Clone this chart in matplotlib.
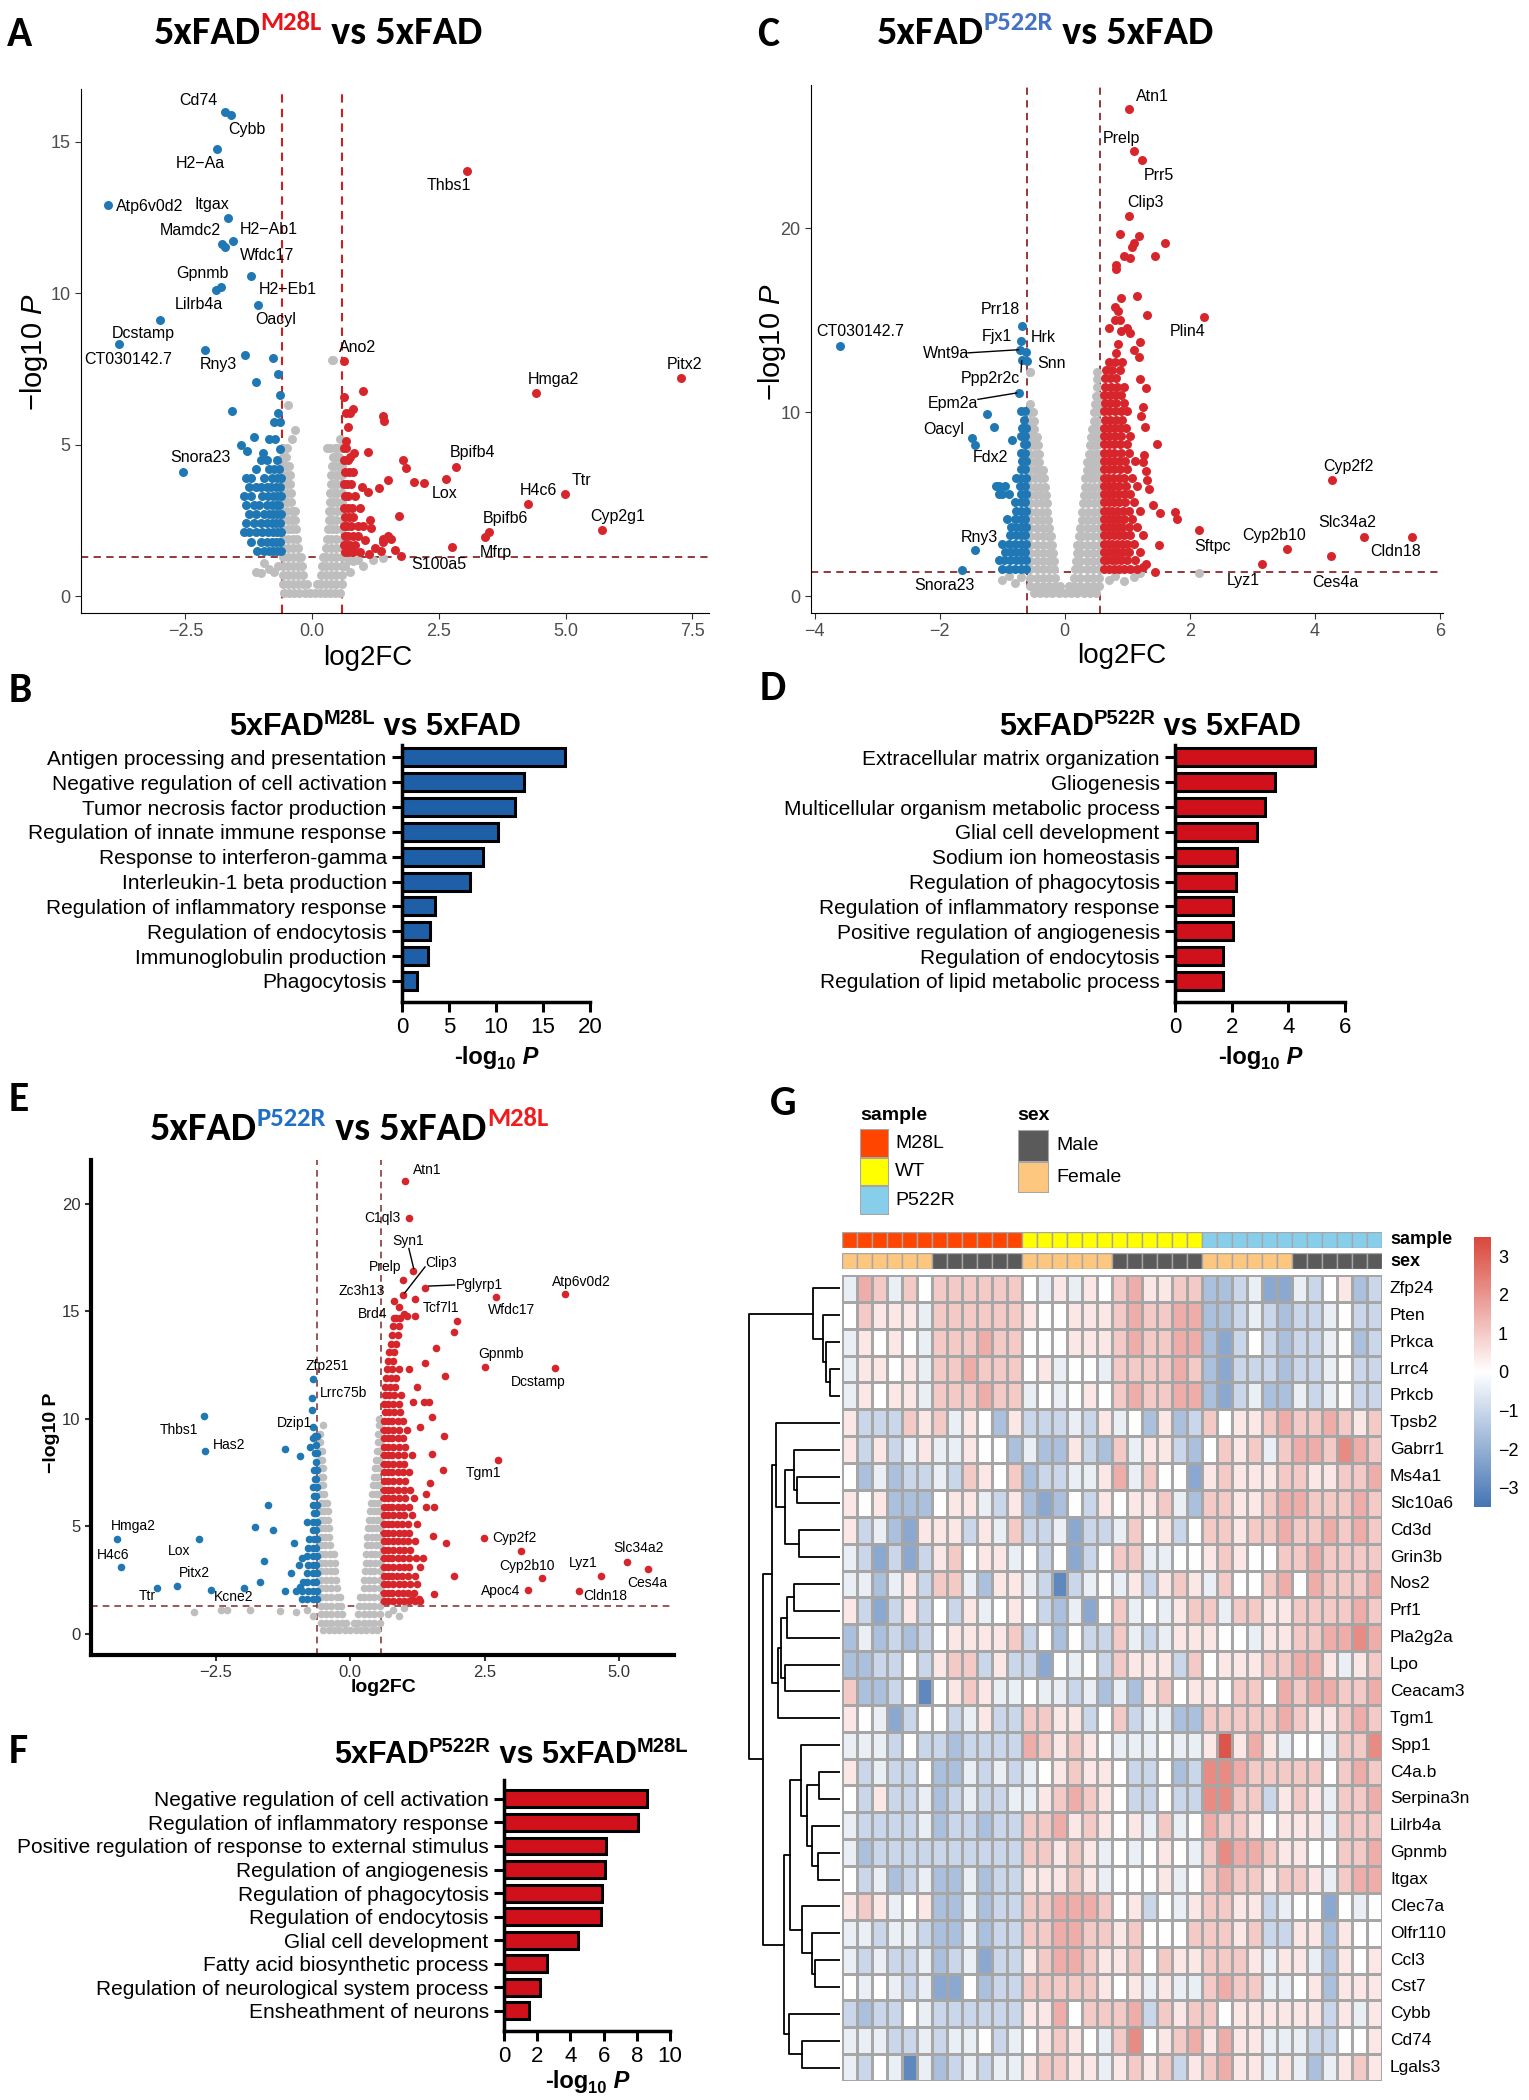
import matplotlib
matplotlib.use('Agg')
import matplotlib.pyplot as plt
import numpy as np
from matplotlib import font_manager
from matplotlib.colors import LinearSegmentedColormap, Normalize
from matplotlib.patches import Rectangle
import matplotlib.colorbar as mcolorbar

W, H = 1529, 2100
fig = plt.figure(figsize=(W / 100, H / 100), dpi=100)
names = {f.name for f in font_manager.fontManager.ttflist}
TITLE_FAM = ['Carlito', 'Lato', 'DejaVu Sans'] if 'Carlito' in names else ['Lato', 'DejaVu Sans']
SANS = ['Liberation Sans', 'DejaVu Sans']
plt.rcParams['font.family'] = SANS
plt.rcParams['mathtext.fontset'] = 'custom'
plt.rcParams['mathtext.rm'] = 'Liberation Sans'
plt.rcParams['mathtext.it'] = 'Liberation Sans:italic'
plt.rcParams['mathtext.bf'] = 'Liberation Sans:bold'

# ----------------------------------------------------------------- data
# Panel A  (rows: (y, [x...]))
A_GREY = [
    (0.1, [-0.55, -0.45, -0.35, -0.25, -0.15, -0.05, 0.05, 0.15, 0.25, 0.35, 0.45, 0.55]),
    (0.4, [-0.58, -0.48, -0.38, -0.28, -0.18, -0.1, 0.1, 0.18, 0.28, 0.38, 0.48, 0.58]),
    (0.7, [-0.58, -0.48, -0.38, -0.28, -0.18, 0.18, 0.28, 0.38, 0.48, 0.58]),
    (1.0, [-0.58, -0.48, -0.38, -0.28, -0.2, 0.2, 0.28, 0.38, 0.48, 0.58]),
    (1.3, [-0.58, -0.48, -0.38, -0.28, -0.22, 0.22, 0.28, 0.38, 0.48, 0.58]),
    (1.6, [-0.58, -0.48, -0.38, -0.28, 0.28, 0.38, 0.48, 0.58]),
    (1.9, [-0.58, -0.48, -0.38, -0.3, 0.3, 0.38, 0.48, 0.58]),
    (2.2, [-0.58, -0.48, -0.39, -0.32, 0.32, 0.39, 0.48, 0.58]),
    (2.5, [-0.58, -0.48, -0.4, -0.33, 0.33, 0.4, 0.48, 0.58]),
    (2.8, [-0.58, -0.49, -0.4, -0.34, 0.34, 0.4, 0.49, 0.58]),
    (3.1, [-0.58, -0.49, -0.41, 0.35, 0.42, 0.49, 0.58]),
    (3.4, [-0.58, -0.49, -0.42, 0.36, 0.43, 0.5, 0.58]),
    (3.7, [-0.58, -0.5, -0.43, 0.37, 0.44, 0.5, 0.58]),
    (4.0, [-0.58, -0.5, -0.44, 0.38, 0.45, 0.52, 0.58]),
    (4.3, [-0.58, -0.51, -0.45, 0.4, 0.46, 0.53, 0.58]),
    (4.6, [-0.58, -0.52, 0.42, 0.48, 0.54]),
    (4.9, [-0.57, -0.5, 0.3, 0.36, 0.45, 0.5, 0.56]),
    (5.2, [-0.4, 0.55]), (5.5, [-0.34]), (6.3, [-0.47]), (7.8, [0.39, 0.42]),
    (0.8, [-1.1, -0.75, 0.75]), (0.75, [-1.0]), (0.9, [-0.85]), (1.0, [-0.68, 0.65, 1.0]),
    (1.1, [-0.95]), (1.2, [0.72, 0.9, 1.2]), (1.15, [0.8]), (1.25, [1.4]),
]
A_BLUE = [
    (7.95, [-1.32]), (7.88, [-0.78]), (7.32, [-0.67]), (7.06, [-1.11]), (6.64, [-0.63]),
    (6.1, [-1.59]), (6.05, [-0.68]), (5.76, [-0.75, -0.63]), (5.26, [-1.15]),
    (5.2, [-0.85, -0.73]), (5.0, [-1.4]), (4.8, [-1.29]), (4.73, [-0.96]), (4.86, [-0.64]),
    (4.5, [-0.7, -0.9, -1.0]), (4.2, [-0.65, -0.75, -0.85, -1.1]),
    (3.9, [-0.62, -0.7, -0.8, -0.95, -1.2, -1.3]),
    (3.6, [-0.64, -0.72, -0.82, -0.9, -1.0, -1.1, -1.25]),
    (3.3, [-0.62, -0.7, -0.78, -0.88, -0.98, -1.2, -1.35]),
    (3.0, [-0.65, -0.72, -0.8, -0.9, -1.05, -1.15, -1.3]),
    (2.7, [-0.62, -0.7, -0.78, -0.86, -0.95, -1.1, -1.25]),
    (2.4, [-0.64, -0.72, -0.8, -0.9, -1.0, -1.15, -1.3]),
    (2.1, [-0.62, -0.7, -0.78, -0.88, -0.98, -1.1, -1.25, -1.35]),
    (1.8, [-0.64, -0.72, -0.8, -0.9, -1.0, -1.2]),
    (1.5, [-0.62, -0.7, -0.78, -0.86, -0.95, -1.08]),
]
A_RED = [
    (6.77, [1.01]), (6.57, [0.63]), (6.18, [0.81]), (6.04, [0.74, 0.66]), (5.94, [1.4]),
    (5.78, [1.42]), (5.58, [0.70]), (5.12, [0.67]), (4.76, [1.1]), (4.74, [0.82]),
    (4.6, [0.75]), (4.49, [1.8]), (4.23, [1.86]), (3.85, [1.5]), (3.77, [2.0]), (3.72, [2.2]),
    (3.57, [1.31]), (3.6, [0.98]), (3.44, [1.1]), (2.63, [1.72]), (2.5, [1.14]), (2.26, [1.16]),
    (1.97, [0.91, 1.5]), (1.84, [1.05]), (1.9, [1.4, 1.56]), (1.77, [1.4]), (1.51, [1.64]),
    (1.58, [1.24]), (1.45, [0.94]), (1.4, [1.12]), (1.5, [1.35]),
    (4.9, [0.63, 0.66]), (4.5, [0.62, 0.7]), (4.1, [0.64, 0.72, 0.8]), (3.7, [0.62, 0.68, 0.76]),
    (3.3, [0.64, 0.7, 0.85]), (2.9, [0.62, 0.7, 0.78, 0.95]), (2.6, [0.65, 0.72, 0.8]),
    (2.3, [0.62, 0.68, 0.76, 0.9, 1.0]), (2.0, [0.64, 0.7, 0.8]), (1.7, [0.62, 0.68, 0.75, 0.85]),
    (1.45, [0.64, 0.7, 0.8]),
]
# (name, x, y, label_x, label_y, colour)
A_LAB = [
    ('Cd74', -1.71, 16.0, -2.25, 16.36, 'b'), ('Cybb', -1.60, 15.9, -1.29, 15.4, 'b'),
    ('H2\u2212Aa', -1.88, 14.78, -2.2, 14.3, 'b'), ('Thbs1', 3.06, 14.03, 2.70, 13.56, 'r'),
    ('Atp6v0d2', -4.03, 12.92, -3.21, 12.88, 'b'), ('Itgax', -1.65, 12.48, -1.98, 12.92, 'b'),
    ('Mamdc2', -1.78, 11.64, -2.40, 12.09, 'b'), ('H2\u2212Ab1', -1.56, 11.72, -0.85, 12.12, 'b'),
    ('Wfdc17', -1.71, 11.54, -0.89, 11.24, 'b'), ('Gpnmb', -1.79, 10.22, -2.16, 10.67, 'b'),
    ('Lilrb4a', -1.90, 10.1, -2.24, 9.62, 'b'), ('H2\u2212Eb1', -1.2, 10.58, -0.49, 10.12, 'b'),
    ('Oacyl', -1.06, 9.63, -0.71, 9.13, 'b'), ('Dcstamp', -3.01, 9.12, -3.33, 8.67, 'b'),
    ('CT030142.7', -3.81, 8.34, -3.63, 7.82, 'b'), ('Rny3', -2.11, 8.12, -1.85, 7.65, 'b'),
    ('Snora23', -2.54, 4.11, -2.21, 4.57, 'b'), ('Ano2', 0.63, 7.75, 0.90, 8.21, 'r'),
    ('Pitx2', 7.28, 7.2, 7.35, 7.66, 'r'), ('Hmga2', 4.42, 6.70, 4.76, 7.15, 'r'),
    ('Bpifb4', 2.83, 4.27, 3.16, 4.73, 'r'), ('Lox', 2.64, 3.88, 2.61, 3.38, 'r'),
    ('Ttr', 4.98, 3.38, 5.31, 3.81, 'r'), ('H4c6', 4.25, 3.05, 4.47, 3.48, 'r'),
    ('Cyp2g1', 5.71, 2.19, 6.03, 2.63, 'r'), ('Bpifb6', 3.48, 2.13, 3.82, 2.56, 'r'),
    ('', 3.41, 1.94, 0, 0, 'r'),
    ('Mfrp', 2.76, 1.62, 3.62, 1.45, 'r'), ('S100a5', 1.75, 1.31, 2.50, 1.05, 'r'),
]

# Panel C
C_GREY = [
    (0.15, [-0.5, -0.4, -0.3, -0.2, -0.1, 0, 0.1, 0.2, 0.3, 0.4, 0.5]),
    (0.55, [-0.55, -0.45, -0.35, -0.25, -0.15, -0.07, 0.07, 0.15, 0.25, 0.35, 0.45, 0.55]),
    (1.0, [-0.55, -0.45, -0.35, -0.25, -0.15, 0.15, 0.25, 0.35, 0.45, 0.55]),
    (1.45, [-0.55, -0.45, -0.35, -0.25, -0.17, 0.17, 0.25, 0.35, 0.45, 0.55]),
    (1.9, [-0.55, -0.45, -0.35, -0.25, -0.18, 0.18, 0.25, 0.35, 0.45, 0.55]),
    (2.35, [-0.55, -0.45, -0.35, -0.25, -0.19, 0.19, 0.25, 0.35, 0.45, 0.55]),
    (2.8, [-0.55, -0.45, -0.35, -0.26, -0.2, 0.2, 0.26, 0.35, 0.45, 0.55]),
    (3.25, [-0.55, -0.45, -0.35, -0.27, -0.22, 0.22, 0.27, 0.35, 0.45, 0.55]),
    (3.7, [-0.55, -0.45, -0.35, -0.25, 0.25, 0.35, 0.45, 0.55]),
    (4.15, [-0.55, -0.45, -0.36, -0.27, 0.27, 0.36, 0.45, 0.55]),
    (4.6, [-0.55, -0.46, -0.37, -0.28, 0.28, 0.37, 0.46, 0.55]),
    (5.05, [-0.55, -0.46, -0.37, -0.29, 0.29, 0.37, 0.46, 0.55]),
    (5.5, [-0.55, -0.46, -0.38, -0.3, 0.3, 0.38, 0.46, 0.55]),
    (5.95, [-0.55, -0.47, -0.39, -0.32, 0.32, 0.39, 0.47, 0.55]),
    (6.4, [-0.55, -0.47, -0.4, -0.33, 0.33, 0.4, 0.47, 0.55]),
    (6.85, [-0.55, -0.48, -0.41, -0.35, 0.35, 0.41, 0.48, 0.55]),
    (7.3, [-0.55, -0.48, -0.41, 0.36, 0.42, 0.48, 0.55]),
    (7.75, [-0.55, -0.48, -0.42, 0.38, 0.44, 0.5, 0.55]),
    (8.2, [-0.55, -0.49, -0.43, 0.4, 0.46, 0.52]),
    (8.65, [-0.55, -0.49, -0.45, 0.42, 0.48, 0.54]),
    (9.1, [-0.55, -0.5, 0.44, 0.5, 0.55]), (9.55, [-0.55, -0.5, 0.46, 0.52]),
    (10.0, [-0.56, -0.51, 0.47, 0.53]), (10.45, [-0.56, 0.49, 0.54]), (10.9, [0.5, 0.55]),
    (11.35, [0.51]), (11.8, [0.52]), (12.2, [-0.56, 0.52]),
    (0.9, [-1.0, 0.7]), (1.1, [-0.9, 0.8]), (0.7, [-0.8]), (0.8, [0.95]), (1.05, [-0.7, 1.1]),
    (1.23, [1.21, 2.14]),
]
C_BLUE = [
    (1.5, [-0.62, -0.7, -0.8, -0.9, -1.0]), (1.95, [-0.62, -0.7, -0.78, -0.88, -0.98, -1.05]),
    (2.4, [-0.63, -0.7, -0.78, -0.86, -0.95]), (2.85, [-0.62, -0.7, -0.8, -0.9, -1.0]),
    (3.3, [-0.63, -0.7, -0.78, -0.88]), (3.75, [-0.62, -0.7, -0.78, -0.86]),
    (4.2, [-0.63, -0.7, -0.8, -0.92]), (4.65, [-0.62, -0.7, -0.78]), (5.1, [-0.63, -0.7, -0.8]),
    (5.55, [-0.62, -0.7, -0.9, -1.0, -1.05]), (6.0, [-0.63, -0.72, -0.95, -1.05, -1.1]),
    (6.45, [-0.62, -0.7, -0.78]), (6.9, [-0.63, -0.7]), (7.35, [-0.62, -0.68]),
    (7.8, [-0.63, -0.7]), (8.25, [-0.62, -0.66]), (8.7, [-0.63, -0.7]), (9.15, [-0.62, -0.68]),
    (9.6, [-0.65]), (10.05, [-0.63, -0.7]), (8.5, [-0.85]), (9.2, [-1.13]), (9.9, [-1.24]),
]
C_RED = [
    (1.5, [0.62, 0.7, 0.78, 0.86, 0.95, 1.05, 1.15]), (1.95, [0.62, 0.68, 0.75, 0.82, 0.9, 1.0, 1.12]),
    (2.4, [0.63, 0.7, 0.78, 0.85, 0.93, 1.02, 1.2]), (2.85, [0.62, 0.69, 0.76, 0.84, 0.92, 1.0, 1.1]),
    (3.3, [0.63, 0.7, 0.78, 0.86, 0.95, 1.05, 1.25]), (3.75, [0.62, 0.69, 0.76, 0.84, 0.92, 1.02, 1.15]),
    (4.2, [0.63, 0.7, 0.78, 0.86, 0.95, 1.08]), (4.65, [0.62, 0.69, 0.76, 0.84, 0.93, 1.02, 1.2]),
    (5.1, [0.63, 0.7, 0.78, 0.86, 0.96, 1.1]), (5.55, [0.62, 0.69, 0.76, 0.85, 0.94, 1.05]),
    (6.0, [0.63, 0.7, 0.78, 0.87, 0.98, 1.15]), (6.45, [0.62, 0.69, 0.77, 0.86, 0.95, 1.08]),
    (6.9, [0.63, 0.7, 0.78, 0.88, 1.0]), (7.35, [0.62, 0.7, 0.78, 0.86, 0.96, 1.12]),
    (7.8, [0.63, 0.7, 0.79, 0.9, 1.02]), (8.25, [0.62, 0.7, 0.78, 0.88, 1.0]),
    (8.7, [0.63, 0.71, 0.8, 0.9, 1.05]), (9.15, [0.62, 0.7, 0.79, 0.88, 0.98]),
    (9.6, [0.64, 0.72, 0.82, 0.92]), (10.05, [0.63, 0.7, 0.8, 0.9, 1.0]),
    (10.5, [0.64, 0.72, 0.82, 0.95]), (10.95, [0.63, 0.72, 0.8, 0.9]),
    (11.4, [0.65, 0.74, 0.84, 0.95]), (11.85, [0.64, 0.72, 0.82]), (12.3, [0.66, 0.75, 0.88]),
    (12.75, [0.7, 0.8, 0.92]),
    (19.7, [0.88]), (19.6, [1.19]), (19.2, [1.10, 1.6]), (19.0, [1.08]), (18.5, [0.94, 1.44]),
    (18.4, [1.05]), (18.0, [0.82]), (17.8, [0.82]), (16.3, [1.15]), (16.2, [0.9]), (15.7, [0.8]),
    (15.5, [0.85]), (15.3, [1.31]), (15.0, [0.8, 0.88]), (14.6, [1.0, 0.7]), (14.4, [0.9]),
    (14.3, [1.05]), (13.8, [1.2]), (13.7, [0.85]), (13.4, [1.1]), (13.2, [0.82]), (13.0, [1.18]),
    (8.26, [1.48]), (7.7, [1.27]), (7.3, [1.25]), (6.8, [1.3]), (4.93, [1.41]), (4.54, [1.53]),
    (4.6, [1.76]), (4.17, [1.79]), (2.77, [1.5]), (1.77, [1.3]), (1.6, [1.25]), (1.32, [1.44]),
    (5.8, [1.35]), (6.3, [1.32]), (9.2, [1.28]), (9.8, [1.22]), (10.3, [1.25]), (11.3, [1.3]),
    (11.8, [1.2]),
]
C_LAB = [
    ('Atn1', 1.02, 26.5, 1.40, 27.2, 'r'), ('Prelp', 1.10, 24.2, 0.90, 24.9, 'r'),
    ('Prr5', 1.23, 23.7, 1.50, 22.9, 'r'), ('Clip3', 1.03, 20.7, 1.29, 21.4, 'r'),
    ('Plin4', 2.23, 15.2, 1.96, 14.4, 'r'), ('Prr18', -0.69, 14.7, -1.03, 15.6, 'b'),
    ('Fjx1', -0.70, 13.9, -1.09, 14.1, 'b'), ('Hrk', -0.62, 13.3, -0.35, 14.05, 'b'),
    ('Wnt9a', -0.71, 13.4, -1.9, 13.2, 'b'), ('Snn', -0.6, 12.8, -0.21, 12.65, 'b'),
    ('Ppp2r2c', -0.69, 12.86, -1.19, 11.85, 'b'), ('Epm2a', -0.74, 11.07, -1.79, 10.49, 'b'),
    ('Oacyl', -1.48, 8.6, -1.94, 9.04, 'b'), ('Fdx2', -1.43, 8.2, -1.19, 7.52, 'b'),
    ('CT030142.7', -3.6, 13.6, -3.27, 14.38, 'b'), ('Rny3', -1.44, 2.49, -1.37, 3.18, 'b'),
    ('Snora23', -1.65, 1.41, -1.92, 0.6, 'b'), ('Cyp2f2', 4.27, 6.34, 4.53, 7.03, 'r'),
    ('Slc34a2', 4.79, 3.24, 4.52, 4.0, 'r'), ('Cldn18', 5.56, 3.24, 5.30, 2.44, 'r'),
    ('Ces4a', 4.26, 2.16, 4.33, 0.74, 'r'), ('Cyp2b10', 3.55, 2.55, 3.35, 3.29, 'r'),
    ('Lyz1', 3.15, 1.73, 2.86, 0.86, 'r'), ('Sftpc', 2.14, 3.57, 2.36, 2.70, 'r'),
    ('', -0.56, 12.2, 0, 0, 'g'),
]
C_LINES = [((-1.55, 13.23), (-0.74, 13.4)), ((-0.70, 12.2), (-0.69, 12.8)),
           ((-1.39, 10.7), (-0.77, 11.05))]

# Panel E
E_GREY = [
    (0.15, [-0.5, -0.4, -0.3, -0.2, -0.1, 0, 0.1, 0.2, 0.3, 0.4, 0.5]),
    (0.5, [-0.55, -0.45, -0.35, -0.25, -0.15, -0.07, 0.07, 0.15, 0.25, 0.35, 0.45, 0.55]),
    (0.9, [-0.55, -0.45, -0.35, -0.25, -0.15, 0.15, 0.25, 0.35, 0.45, 0.55]),
    (1.3, [-0.55, -0.45, -0.35, -0.25, -0.17, 0.17, 0.25, 0.35, 0.45, 0.55]),
    (1.7, [-0.55, -0.45, -0.35, -0.25, -0.19, 0.19, 0.25, 0.35, 0.45, 0.55]),
    (2.1, [-0.55, -0.45, -0.35, -0.25, 0.25, 0.35, 0.45, 0.55]),
    (2.5, [-0.55, -0.45, -0.35, -0.26, 0.26, 0.35, 0.45, 0.55]),
    (2.9, [-0.55, -0.45, -0.36, -0.28, 0.28, 0.36, 0.45, 0.55]),
    (3.3, [-0.55, -0.46, -0.37, -0.29, 0.29, 0.37, 0.46, 0.55]),
    (3.7, [-0.55, -0.46, -0.38, -0.3, 0.3, 0.38, 0.46, 0.55]),
    (4.1, [-0.55, -0.46, -0.38, 0.31, 0.39, 0.47, 0.55]),
    (4.5, [-0.55, -0.47, -0.39, 0.32, 0.4, 0.47, 0.55]),
    (4.9, [-0.55, -0.47, -0.4, 0.33, 0.41, 0.48, 0.55]),
    (5.3, [-0.55, -0.48, -0.41, 0.35, 0.42, 0.49, 0.55]),
    (5.7, [-0.55, -0.48, -0.42, 0.37, 0.44, 0.5, 0.55]),
    (6.1, [-0.55, -0.49, -0.43, 0.39, 0.45, 0.51]), (6.5, [-0.55, -0.49, 0.41, 0.47, 0.52]),
    (6.9, [-0.55, -0.5, 0.43, 0.49, 0.54]), (7.3, [-0.55, -0.5, 0.45, 0.5]),
    (7.7, [-0.55, -0.51, 0.46, 0.52]), (8.1, [-0.56, -0.52, 0.48, 0.53]),
    (8.5, [-0.56, -0.52, 0.5, 0.54]), (8.9, [-0.56, 0.51, 0.55]), (9.3, [-0.56, 0.52]),
    (9.7, [-0.51, 0.53]), (10.0, [0.54]),
    (1.0, [-2.9, -1.0]), (1.1, [-2.4, -2.3, -1.86, -0.8, 0.8]), (1.05, [-1.3]), (0.8, [-0.7, 0.9]),
    (0.9, [0.7]), (1.2, [1.0]),
]
E_BLUE = [
    (1.6, [-0.62, -0.7, -0.8, -0.9]), (2.0, [-0.62, -0.7, -0.78, -0.9, -1.0]),
    (2.4, [-0.63, -0.7, -0.8, -0.88]), (2.8, [-0.62, -0.7, -0.8]), (3.2, [-0.63, -0.7, -0.78, -0.95]),
    (3.6, [-0.62, -0.7, -0.8]), (4.0, [-0.63, -0.7, -0.78]), (4.4, [-0.62, -0.68, -0.76]),
    (4.8, [-0.63, -0.7]), (5.2, [-0.62, -0.7, -0.8]), (5.6, [-0.63, -0.68]), (6.0, [-0.62, -0.7]),
    (6.4, [-0.63, -0.67]), (6.8, [-0.62, -0.7]), (7.2, [-0.63, -0.66]), (7.6, [-0.62, -0.68]),
    (8.0, [-0.63]), (8.4, [-0.62, -0.66]), (8.8, [-0.63]), (9.2, [-0.62, -0.66]),
    (2.1, [-1.97]), (2.4, [-1.68]), (3.4, [-1.6]), (4.97, [-1.77]), (5.98, [-1.52]),
    (4.82, [-1.43]), (8.6, [-1.22]), (8.26, [-0.94]), (2.0, [-1.22]), (2.18, [-0.94]),
    (4.2, [-1.05]), (3.5, [-0.9]), (2.8, [-1.1]), (10.4, [-0.72]), (9.1, [-0.7]), (8.7, [-0.75]),
]
E_RED = [
    (1.5, [0.62, 0.7, 0.8, 0.9, 1.0, 1.1, 1.2, 1.3]), (1.9, [0.62, 0.7, 0.78, 0.88, 0.98, 1.08, 1.18]),
    (2.3, [0.63, 0.71, 0.8, 0.9, 1.0, 1.12, 1.25]), (2.7, [0.62, 0.7, 0.78, 0.87, 0.97, 1.08, 1.2]),
    (3.1, [0.63, 0.71, 0.8, 0.9, 1.0, 1.1, 1.3]), (3.5, [0.62, 0.7, 0.78, 0.88, 0.98, 1.1, 1.22]),
    (3.9, [0.63, 0.71, 0.8, 0.9, 1.0, 1.12]), (4.3, [0.62, 0.7, 0.79, 0.88, 0.98, 1.08, 1.2]),
    (4.7, [0.63, 0.71, 0.8, 0.9, 1.0, 1.1]), (5.1, [0.62, 0.7, 0.78, 0.87, 0.97, 1.08, 1.25]),
    (5.5, [0.63, 0.71, 0.8, 0.9, 1.0, 1.15]), (5.9, [0.62, 0.7, 0.78, 0.88, 0.98, 1.1]),
    (6.3, [0.63, 0.71, 0.8, 0.9, 1.02, 1.18]), (6.7, [0.62, 0.7, 0.78, 0.88, 1.0, 1.12]),
    (7.1, [0.63, 0.71, 0.8, 0.9, 1.02]), (7.5, [0.62, 0.7, 0.78, 0.88, 0.98, 1.1]),
    (7.9, [0.63, 0.71, 0.8, 0.9, 1.0]), (8.3, [0.62, 0.7, 0.78, 0.88, 1.0, 1.15]),
    (8.7, [0.63, 0.71, 0.8, 0.9, 1.02]), (9.1, [0.62, 0.7, 0.78, 0.88, 0.98]),
    (9.5, [0.63, 0.71, 0.8, 0.9, 1.05]), (9.9, [0.62, 0.7, 0.78, 0.88, 0.98]),
    (10.3, [0.64, 0.72, 0.82, 0.92]), (10.7, [0.63, 0.71, 0.8, 0.9]),
    (11.1, [0.64, 0.72, 0.82, 0.94]), (11.5, [0.65, 0.74, 0.84]), (11.9, [0.66, 0.75, 0.86]),
    (12.3, [0.68, 0.78, 0.9]), (12.7, [0.7, 0.8]), (13.1, [0.72, 0.82]), (13.5, [0.75, 0.85]),
    (13.9, [0.78, 0.88]), (14.3, [0.8, 0.9]), (14.7, [0.82, 0.92]),
    (13.3, [1.59]), (12.6, [1.39]), (12.0, [1.77]), (14.55, [1.99]), (14.06, [1.93]),
    (10.8, [1.17]), (10.77, [1.38, 1.46]), (10.08, [1.52]), (9.2, [1.74]), (8.36, [1.52]),
    (7.63, [1.72]), (7.0, [1.49]), (5.87, [1.4, 1.55]), (4.53, [1.54]), (4.2, [1.78]),
    (2.7, [1.93]), (1.85, [1.56]), (1.6, [1.15, 1.28]), (3.5, [1.35]), (6.5, [1.4]),
    (9.6, [1.3]), (11.5, [1.25]), (12.3, [1.1]), (14.8, [1.05, 1.2]), (15.2, [0.9]),
    (14.9, [1.0]), (2.58, [3.57]),
]
E_LAB = [
    ('Atn1', 1.01, 21.05, 1.43, 21.6, 'r'), ('C1ql3', 1.10, 19.35, 0.59, 19.35, 'r'),
    ('Syn1', 1.17, 16.9, 1.08, 18.3, 'r'), ('Prelp', 0.99, 16.44, 0.65, 17.05, 'r'),
    ('Clip3', 0.99, 15.77, 1.69, 17.25, 'r'), ('Zc3h13', 0.82, 15.5, 0.22, 15.95, 'r'),
    ('Pglyrp1', 1.39, 16.1, 2.40, 16.23, 'r'), ('Tcf7l1', 1.21, 15.56, 1.69, 15.14, 'r'),
    ('Brd4', 0.86, 14.67, 0.41, 14.86, 'r'), ('Atp6v0d2', 4.0, 15.83, 4.30, 16.39, 'r'),
    ('Wfdc17', 2.71, 15.66, 3.0, 15.05, 'r'), ('Gpnmb', 2.50, 12.43, 2.80, 13.0, 'r'),
    ('Dcstamp', 3.80, 12.37, 3.50, 11.72, 'r'), ('Tgm1', 2.74, 8.1, 2.47, 7.48, 'r'),
    ('Cyp2f2', 2.49, 4.47, 3.06, 4.47, 'r'), ('Cyp2b10', 3.17, 3.83, 3.28, 3.15, 'r'),
    ('Apoc4', 3.30, 2.05, 2.80, 1.99, 'r'), ('Lyz1', 4.66, 2.69, 4.34, 3.27, 'r'),
    ('Slc34a2', 5.15, 3.35, 5.36, 3.96, 'r'), ('Ces4a', 5.53, 3.0, 5.52, 2.37, 'r'),
    ('Cldn18', 4.25, 1.99, 4.74, 1.76, 'r'), ('Zfp251', -0.69, 11.87, -0.42, 12.45, 'b'),
    ('Lrrc75b', -0.71, 10.97, -0.13, 11.19, 'b'), ('Dzip1', -0.69, 9.6, -1.04, 9.79, 'b'),
    ('Thbs1', -2.71, 10.13, -3.18, 9.5, 'b'), ('Has2', -2.70, 8.49, -2.25, 8.8, 'b'),
    ('Hmga2', -4.33, 4.42, -4.04, 5.01, 'b'), ('H4c6', -4.26, 3.08, -4.40, 3.67, 'b'),
    ('Lox', -2.82, 4.42, -3.19, 3.86, 'b'), ('Pitx2', -3.23, 2.2, -2.90, 2.81, 'b'),
    ('Ttr', -3.6, 2.14, -3.78, 1.76, 'b'), ('Kcne2', -2.58, 2.05, -2.16, 1.7, 'b'),
]
E_LINES = [((1.09, 17.93), (1.18, 17.0)), ((1.39, 17.07), (1.01, 15.85)),
           ((1.94, 16.23), (1.46, 16.18))]

# Bar charts (GO terms)
B_CATS = ['Antigen processing and presentation', 'Negative regulation of cell activation',
          'Tumor necrosis factor production', 'Regulation of innate immune response',
          'Response to interferon-gamma', 'Interleukin-1 beta production',
          'Regulation of inflammatory response', 'Regulation of endocytosis',
          'Immunoglobulin production', 'Phagocytosis']
B_VALS = [17.3, 13.0, 12.0, 10.2, 8.6, 7.2, 3.5, 3.0, 2.8, 1.6]
D_CATS = ['Extracellular matrix organization', 'Gliogenesis',
          'Multicellular organism metabolic process', 'Glial cell development',
          'Sodium ion homeostasis', 'Regulation of phagocytosis',
          'Regulation of inflammatory response', 'Positive regulation of angiogenesis',
          'Regulation of endocytosis', 'Regulation of lipid metabolic process']
D_VALS = [4.94, 3.54, 3.17, 2.9, 2.18, 2.15, 2.06, 2.04, 1.70, 1.70]
F_CATS = ['Negative regulation of cell activation', 'Regulation of inflammatory response',
          'Positive regulation of response to external stimulus', 'Regulation of angiogenesis',
          'Regulation of phagocytosis', 'Regulation of endocytosis', 'Glial cell development',
          'Fatty acid biosynthetic process', 'Regulation of neurological system process',
          'Ensheathment of neurons']
F_VALS = [8.6, 8.09, 6.14, 6.09, 5.89, 5.83, 4.43, 2.6, 2.14, 1.49]

# Heatmap (G)
GENES = ['Zfp24', 'Pten', 'Prkca', 'Lrrc4', 'Prkcb', 'Tpsb2', 'Gabrr1', 'Ms4a1', 'Slc10a6',
         'Cd3d', 'Grin3b', 'Nos2', 'Prf1', 'Pla2g2a', 'Lpo', 'Ceacam3', 'Tgm1', 'Spp1', 'C4a.b',
         'Serpina3n', 'Lilrb4a', 'Gpnmb', 'Itgax', 'Clec7a', 'Olfr110', 'Ccl3', 'Cst7', 'Cybb',
         'Cd74', 'Lgals3']
SAMPLE = ['M28L'] * 12 + ['WT'] * 12 + ['P522R'] * 12
SEX = (['Female'] * 6 + ['Male'] * 6) * 3
CODE = {'a': -3.0, 'b': -2.2, 'c': -1.6, 'd': -1.0, 'e': -0.4, 'f': 0.0,
        'g': 0.45, 'h': 1.0, 'i': 1.55, 'j': 2.2, 'k': 3.2}
HM_ROWS = [
    "e i h e h f h h h h h h f e g e g f h i g g h h c c d e b b e d f g c d",
    "f h g g g e h h h h h h g f f g g g h i h h i i c c d e d c d d e f d d",
    "e g f g f e h h h i h h f f f g g g h i h h i i c b d f d c d d e f c d",
    "e g g f g e h h i h h h f g e f f e h h h h i h c b d d d c d d e f d d",
    "e g f g g e h h h i h h e f e f g f h i h h i i c b d e c c e d e f d d",
    "g d d d h g h e g f c g d d d e d g e f c g c d h f g g h i h h i h g h",
    "g d g d e g e e g f f c e c c g d c h e g g d c f h g h e h i i h j i h",
    "f c e c d d e d h g f h c d d e e g i e h f f b g h g g g h h g g h h i",
    "g f g c c c f g g e d g c b c f d g f g g h e c h h g g h i i h h h i h",
    "g d e c b g g g d g e h d d e b d d e h f g d f h h g h h i h h i h i h",
    "e d b d b d g h f g g e f d f b d f h h e e f f g h g f f h h i h h h h",
    "e e c e g d h h e c g g e d a d e f e g d g h g e h f f h i f i h h h i",
    "g d b d g d f d g e f g f d c e b f h e f e g h h e h h g g h h h h i h",
    "c e c d c d f g g g g h d f c f d d h e d e g g g f f e g g h h i i j i",
    "c c d d f d g h h d g d d b f e f d h g g g d h f g g g h h i i g e g h",
    "h c c d f a f g h g e e f e e d e c e c g h f g g f h h f i h i i h h i",
    "g f e b d f f d e g d d h h g g d f h d e e c c h h h h h i h g g h i h",
    "e e e d f d d c d d d d i h g h g f e e e f e e g k g i g e f f e h h j",
    "g d e d d f c c e d e d e f g h g g f d d f c d j j i h h h h h f h i h",
    "f d g d d e c d e d d e e g h i h g f d d f d d j j h h d g h g e h h i",
    "e d d d d e c d d c d d h h i g h g f g e h e f i h h g f g g g e h h h",
    "e c d d d d d d d d d d h h g h g e f e f g f e h j i i h g g f f h h i",
    "f d e c d e c c e c d d g g g h g e f f f g e f h i h h g h h g e h i i",
    "g h g e f g c c e c d d h h i i i h f g d f e g h h g g d e f f b f e f",
    "e e d e e d c c e c d d h h i i h h g h f f f h h h g h d d g g c g f f",
    "e d e d d e c d e b d d g h i i h g g h f h g g h h h g e g g e c g f g",
    "f e f e d e b b f c d d h h h h h g f g e g e e h i h h e e f g c g g g",
    "d c d d f e d d d d d d g g i f h h h i d h g h h f g g g g g g d g e g",
    "e e e d d e d e e f d e f g h g f e h j f g h i g i g g e e e d d f f g",
    "e d f e a e c d e d e e g h h g g e g h g h d g h i g g e g e c e g h g",
]
# row dendrogram: (left, right, height); leaves 0-29, new clusters from 30
LINKAGE = [
    (3, 4, 0.11), (2, 30, 0.15), (1, 31, 0.19), (0, 32, 0.30),
    (7, 8, 0.47), (6, 34, 0.51), (9, 10, 0.45), (35, 36, 0.60), (5, 37, 0.70),
    (11, 12, 0.51), (39, 13, 0.58), (14, 15, 0.60), (40, 41, 0.65), (42, 16, 0.68),
    (18, 19, 0.23), (21, 22, 0.24), (20, 45, 0.31), (44, 46, 0.36), (17, 47, 0.43),
    (25, 26, 0.27), (24, 49, 0.31), (23, 50, 0.42), (28, 29, 0.42), (27, 52, 0.56),
    (48, 51, 0.55), (54, 53, 0.62), (38, 43, 0.75), (56, 55, 0.85), (33, 57, 1.0),
]

# ----------------------------------------------------------------- helpers
COL = {'b': '#1f78b4', 'r': '#d7262b', 'g': '#bebebe'}


def add_ax(l, t, r, b):
    return fig.add_axes([l / W, 1 - b / H, (r - l) / W, (b - t) / H])


def ftext(x, y, s, **kw):
    return fig.text(x / W, 1 - y / H, s, **kw)


def rich(x, y, pieces, ha='center'):
    r = fig.canvas.get_renderer()
    objs = []
    for s, kw in pieces:
        kw = dict(kw)
        rise = kw.pop('rise', 0)
        t = fig.text(0, 0, s, ha='left', va='baseline', **kw)
        objs.append((t, rise, t.get_window_extent(r).width))
    total = sum(o[2] for o in objs)
    cx = x - total / 2 if ha == 'center' else x
    for t, rise, w in objs:
        t.set_position((cx / W, 1 - (y - rise) / H))
        cx += w


def rows_xy(rows):
    xs, ys = [], []
    for y, xl in rows:
        for x in xl:
            xs.append(x)
            ys.append(y)
    return xs, ys


def volcano(ax, grey, blue, red, labels, lines, s, fs, xlim, ylim):
    for rows, c in ((grey, 'g'), (blue, 'b'), (red, 'r')):
        xs, ys = rows_xy(rows)
        ax.scatter(xs, ys, s=s, c=COL[c], linewidths=0, zorder=2)
    for name, px, py, lx, ly, c in labels:
        ax.scatter([px], [py], s=s, c=COL[c], linewidths=0, zorder=3)
        if name:
            ax.text(lx, ly, name, ha='center', va='center', fontsize=fs, zorder=4,
                    family=SANS)
    for (x1, y1), (x2, y2) in lines:
        ax.plot([x1, x2], [y1, y2], color='black', lw=1.0, zorder=4)
    ax.set_xlim(*xlim)
    ax.set_ylim(*ylim)
    for sp in ('top', 'right'):
        ax.spines[sp].set_visible(False)


def title_pieces(parts, size, fam, weight='bold'):
    out = []
    for s, kind, color in parts:
        if kind == 'sup':
            out.append((s, dict(fontsize=size * 0.66, color=color, family=fam,
                                fontweight=weight, rise=size * 0.5)))
        else:
            out.append((s, dict(fontsize=size, color=color, family=fam, fontweight=weight)))
    return out


def barpanel(ax, cats, vals, color, xmax, xticks, top=-0.8):
    y = np.arange(len(cats))
    ax.barh(y, vals, height=0.72, color=color, edgecolor='black', linewidth=2.2, zorder=2)
    ax.set_yticks(y)
    ax.set_yticklabels(cats, fontsize=15)
    ax.set_ylim(len(cats) - 1 + 0.85, top)
    ax.set_xlim(0, xmax)
    ax.set_xticks(xticks)
    ax.set_xticklabels([str(v) for v in xticks], fontsize=16)
    for sp in ('top', 'right'):
        ax.spines[sp].set_visible(False)
    for sp in ('left', 'bottom'):
        ax.spines[sp].set_linewidth(2.5)
    ax.tick_params(axis='both', width=2.2, length=7, color='black')
    ax.tick_params(axis='y', pad=4)


def neg_log_label(x, y):
    rich(x, y, [('-log', dict(fontsize=17, fontweight='bold')),
                ('10', dict(fontsize=12, fontweight='bold', rise=-5)),
                (' P', dict(fontsize=17, fontweight='bold', style='italic'))])


TFS = 29
LETTER_FS = 30

# ----------------------------------------------------------------- Panel A
axA = add_ax(81, 89, 709, 613)
volcano(axA, A_GREY, A_BLUE, A_RED, A_LAB, [], 42, 11.5, (-4.56, 7.83), (-0.56, 16.75))
axA.axvline(-0.585, color='#cc2020', ls=(0, (4, 3)), lw=1.5, zorder=1)
axA.axvline(0.585, color='#cc2020', ls=(0, (4, 3)), lw=1.5, zorder=1)
axA.axhline(1.301, color='#8b2a2a', ls=(0, (4, 3)), lw=1.3, zorder=1)
axA.set_xticks([-2.5, 0, 2.5, 5, 7.5])
axA.set_xticklabels(['\u22122.5', '0.0', '2.5', '5.0', '7.5'])
axA.set_yticks([0, 5, 10, 15])
axA.tick_params(labelsize=13, labelcolor='#4d4d4d', color='#333333', length=4)
ftext(34, 352, '\u2212log10 $\\it{P}$', rotation=90, ha='center', va='center', fontsize=21)
ftext(368, 658, 'log2FC', ha='center', va='center', fontsize=20)
ftext(7, 46, 'A', fontsize=LETTER_FS, fontweight='bold', family=TITLE_FAM, va='baseline')
rich(318, 44, title_pieces([('5xFAD', 'n', 'black'), ('M28L', 'sup', '#e8141b'),
                            (' vs 5xFAD', 'n', 'black')], TFS, TITLE_FAM))

# ----------------------------------------------------------------- Panel C
axC = add_ax(811, 85, 1443, 613)
volcano(axC, C_GREY, C_BLUE, C_RED, C_LAB, C_LINES, 42, 11.5, (-4.06, 6.05), (-0.92, 27.8))
for xv in (-0.6, 0.57):
    axC.axvline(xv, color='#8b2a2a', ls=(0, (4, 3)), lw=1.3, zorder=1)
axC.axhline(1.301, color='#8b2a2a', ls=(0, (4, 3)), lw=1.3, zorder=1)
axC.set_xticks([-4, -2, 0, 2, 4, 6])
axC.set_xticklabels(['\u22124', '\u22122', '0', '2', '4', '6'])
axC.set_yticks([0, 10, 20])
axC.tick_params(labelsize=13, labelcolor='#4d4d4d', color='#333333', length=4)
ftext(772, 342, '\u2212log10 $\\it{P}$', rotation=90, ha='center', va='center', fontsize=21)
ftext(1122, 656, 'log2FC', ha='center', va='center', fontsize=20)
ftext(757, 46, 'C', fontsize=LETTER_FS, fontweight='bold', family=TITLE_FAM, va='baseline')
rich(1045, 44, title_pieces([('5xFAD', 'n', 'black'), ('P522R', 'sup', '#4472c4'),
                             (' vs 5xFAD', 'n', 'black')], TFS, TITLE_FAM))

# ----------------------------------------------------------------- Panel B / D
axB = add_ax(402, 745, 590, 1002)
barpanel(axB, B_CATS, B_VALS, '#1f5fa8', 20, [0, 5, 10, 15, 20], top=-0.5)
neg_log_label(496, 1064)
ftext(9, 702, 'B', fontsize=LETTER_FS, fontweight='bold', family=TITLE_FAM, va='baseline')
rich(375, 735, title_pieces([('5xFAD', 'n', 'black'), ('M28L', 'sup', 'black'),
                             (' vs 5xFAD', 'n', 'black')], 22, SANS))

axD = add_ax(1175, 745, 1345, 1002)
barpanel(axD, D_CATS, D_VALS, '#d0111b', 6, [0, 2, 4, 6], top=-0.5)
neg_log_label(1260, 1064)
ftext(760, 700, 'D', fontsize=LETTER_FS, fontweight='bold', family=TITLE_FAM, va='baseline')
rich(1150, 735, title_pieces([('5xFAD', 'n', 'black'), ('P522R', 'sup', 'black'),
                              (' vs 5xFAD', 'n', 'black')], 22, SANS))

# ----------------------------------------------------------------- Panel E
axE = add_ax(91, 1160, 674, 1655)
volcano(axE, E_GREY, E_BLUE, E_RED, E_LAB, E_LINES, 30, 10, (-4.82, 6.02), (-1.0, 22.05))
for xv in (-0.62, 0.565):
    axE.axvline(xv, color='#8b3a3a', ls=(0, (4, 3)), lw=1.2, zorder=1)
axE.axhline(1.301, color='#8b3a3a', ls=(0, (4, 3)), lw=1.2, zorder=1)
axE.set_xticks([-2.5, 0, 2.5, 5])
axE.set_xticklabels(['\u22122.5', '0.0', '2.5', '5.0'])
axE.set_yticks([0, 5, 10, 15, 20])
for sp in ('left', 'bottom'):
    axE.spines[sp].set_linewidth(3)
axE.tick_params(labelsize=12, labelcolor='#333333', color='#333333', length=4, width=1.5)
ftext(52, 1433, '\u2212log10 P', rotation=90, ha='center', va='center', fontsize=14,
      fontweight='bold')
ftext(383, 1687, 'log2FC', ha='center', va='center', fontsize=14, fontweight='bold')
ftext(9, 1111, 'E', fontsize=LETTER_FS, fontweight='bold', family=TITLE_FAM, va='baseline')
rich(349, 1140, title_pieces([('5xFAD', 'n', 'black'), ('P522R', 'sup', '#1f6fc5'),
                              (' vs 5xFAD', 'n', 'black'), ('M28L', 'sup', '#ee1c1c')],
                             TFS, TITLE_FAM))

# ----------------------------------------------------------------- Panel F
axF = add_ax(504, 1780, 670, 2031)
barpanel(axF, F_CATS, F_VALS, '#d0111b', 10, [0, 2, 4, 6, 8, 10])
neg_log_label(587, 2088)
ftext(9, 1763, 'F', fontsize=LETTER_FS, fontweight='bold', family=TITLE_FAM, va='baseline')
rich(511, 1763, title_pieces([('5xFAD', 'n', 'black'), ('P522R', 'sup', 'black'),
                              (' vs 5xFAD', 'n', 'black'), ('M28L', 'sup', 'black')], 22, SANS))

# ----------------------------------------------------------------- Panel G heatmap
HX0, HX1, HY0, HY1 = 842, 1382, 1275, 2081
vals = np.array([[CODE[c] for c in row.split()] for row in HM_ROWS])
cmap = LinearSegmentedColormap.from_list('bwr2', ['#4575b4', '#ffffff', '#d9473b'])
axH = add_ax(HX0, HY0, HX1, HY1)
axH.pcolormesh(np.arange(37), np.arange(31), vals, cmap=cmap, vmin=-3.5, vmax=3.5,
               edgecolors='#a6a6a6', linewidth=1.0)
axH.set_xlim(0, 36)
axH.set_ylim(30, 0)
axH.axis('off')
rh = (HY1 - HY0) / 30
for i, g in enumerate(GENES):
    ftext(1390, HY0 + (i + 0.5) * rh, g, fontsize=12.5, va='center', ha='left')

SAMPLE_COL = {'M28L': '#ff4500', 'WT': '#ffff00', 'P522R': '#87ceeb'}
SEX_COL = {'Male': '#5a5a5a', 'Female': '#fdc77f'}
for (t, b, labs, cmapd, name) in ((1232, 1248, SAMPLE, SAMPLE_COL, 'sample'),
                                  (1253, 1269, SEX, SEX_COL, 'sex')):
    axa = add_ax(HX0, t, HX1, b)
    for j, lab in enumerate(labs):
        axa.add_patch(Rectangle((j, 0), 1, 1, facecolor=cmapd[lab], edgecolor='#a6a6a6', lw=1.0))
    axa.set_xlim(0, 36)
    axa.set_ylim(0, 1)
    axa.axis('off')
    ftext(1390, (t + b) / 2, name, fontsize=13, fontweight='bold', va='center', ha='left')

# dendrogram
axDn = add_ax(748, HY0, 840, HY1)
pos = {i: i + 0.5 for i in range(30)}
hgt = {i: 0.0 for i in range(30)}
for k, (a, b, h) in enumerate(LINKAGE):
    cid = 30 + k
    axDn.plot([hgt[a], h, h, hgt[b]], [pos[a], pos[a], pos[b], pos[b]], color='black', lw=1.3)
    pos[cid] = (pos[a] + pos[b]) / 2
    hgt[cid] = h
axDn.set_xlim(1.01, 0)
axDn.set_ylim(30, 0)
axDn.axis('off')

# legends
LY = 8
ftext(860, 1108 + LY, 'sample', fontsize=14, fontweight='bold', va='center', ha='left')
for k, lab in enumerate(['M28L', 'WT', 'P522R']):
    t = 1121 + LY + k * 28.5
    axl = add_ax(860, t, 889, t + 28.5)
    axl.add_patch(Rectangle((0, 0), 1, 1, facecolor=SAMPLE_COL[lab], edgecolor='#a6a6a6', lw=1.5))
    axl.set_xlim(0, 1); axl.set_ylim(0, 1); axl.axis('off')
    ftext(895, t + 14.5, lab, fontsize=14, va='center', ha='left')
ftext(1017, 1108 + LY, 'sex', fontsize=14, fontweight='bold', va='center', ha='left')
for k, lab in enumerate(['Male', 'Female']):
    t = 1122 + LY + k * 31.5
    axl = add_ax(1018, t, 1049, t + 31.5)
    axl.add_patch(Rectangle((0, 0), 1, 1, facecolor=SEX_COL[lab], edgecolor='#a6a6a6', lw=1.5))
    axl.set_xlim(0, 1); axl.set_ylim(0, 1); axl.axis('off')
    ftext(1056, t + 16, lab, fontsize=14, va='center', ha='left')

cax = add_ax(1474, 1237, 1491, 1507)
cb = mcolorbar.ColorbarBase(cax, cmap=cmap, norm=Normalize(-3.5, 3.5), ticks=[-3, -2, -1, 0, 1, 2, 3])
cb.outline.set_visible(False)
cax.tick_params(length=0, labelsize=13, pad=5)
ftext(770, 1115, 'G', fontsize=LETTER_FS, fontweight='bold', family=TITLE_FAM, va='baseline')

fig.savefig('out.png', dpi=100, facecolor='white')
